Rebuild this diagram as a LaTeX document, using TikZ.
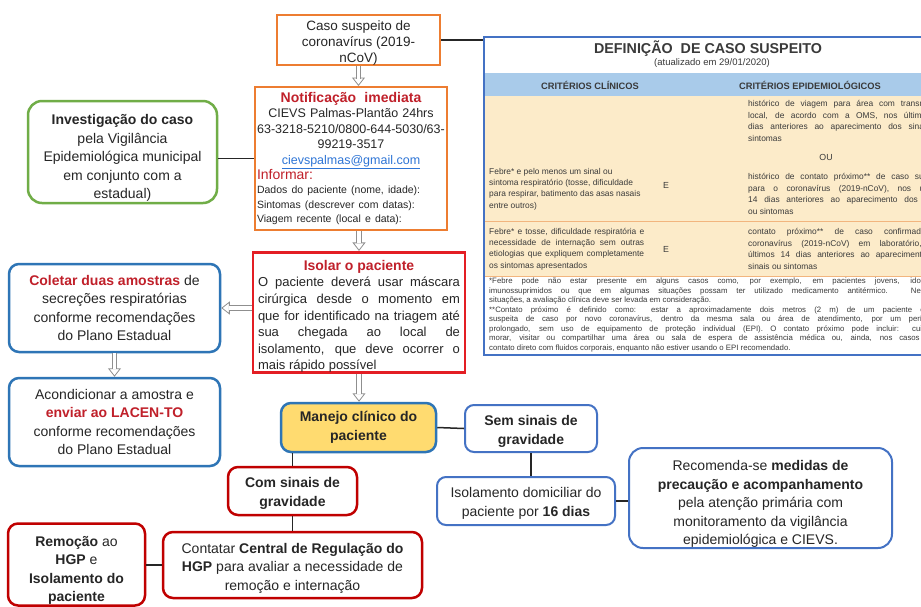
\documentclass[tikz,border=0pt]{standalone}
\usepackage{fontspec}
\setmainfont{Liberation Sans}
\usetikzlibrary{arrows.meta}
\definecolor{boxorange}{HTML}{ED7D31}
\definecolor{boxred}{HTML}{C00000}
\definecolor{brightred}{HTML}{E31E24}
\definecolor{alertred}{HTML}{C0202A}
\definecolor{boxgreen}{HTML}{70AD47}
\definecolor{boxblue}{HTML}{2E75B6}
\definecolor{paleblue}{HTML}{4472C4}
\definecolor{manejofill}{HTML}{FFDB70}
\definecolor{headfill}{HTML}{A9CBEA}
\definecolor{rowfill}{HTML}{FCEBC9}
\definecolor{rowline}{HTML}{F2B57E}
\definecolor{linkblue}{HTML}{2E75D6}
\definecolor{arrowgray}{HTML}{8F8F8F}
\definecolor{ink}{HTML}{262626}
\definecolor{tabink}{HTML}{3A3A3A}

\begin{document}
\begin{tikzpicture}[x=1pt, y=-1pt,
  every node/.style={text=ink},
  box/.style={draw, line width=2pt, align=center, inner sep=0pt,
    font=\fontsize{14}{18.5}\selectfont},
  orangebox/.style={box, draw=boxorange},
  redbox/.style={box, draw=boxred, rounded corners=10pt, line width=2.5pt},
  bluebox/.style={box, draw=boxblue, rounded corners=10pt, line width=2.5pt},
  lightbox/.style={box, draw=paleblue, rounded corners=9pt, line width=2pt},
  greenbox/.style={box, draw=boxgreen, rounded corners=14pt, line width=2.5pt},
  boldbox/.style={font=\bfseries\fontsize{14}{19}\selectfont},
  link/.style={draw=ink, line width=1.5pt},
  hollowshaft/.style={draw=arrowgray, line width=0.8pt, double=white,
    double distance=3.8pt, shorten >=7.5pt},
  hollowhead/.style={draw=arrowgray, line width=0.8pt,
    -{Triangle[length=8.5pt, width=13pt, fill=white]}},
  tabtext/.style={text=tabink, inner sep=0pt,
    font=\fontsize{8.4}{11.4}\selectfont},
  tabhead/.style={text=tabink, font=\bfseries\fontsize{9.3}{11}\selectfont}
  ]
  \path[use as bounding box, clip] (0,0) rectangle (921,606);
  \fill[white] (0,0) rectangle (921,606);

  \node[orangebox, minimum width=163pt, minimum height=50pt,
    font=\fontsize{13.5}{16}\selectfont] (caso) at (358.5,40)
    {\rule{0pt}{15pt}Caso suspeito de\\coronavírus (2019-\\nCoV)};
  \node[orangebox, minimum width=192pt, minimum height=143pt,
    text width=188pt, align=left, font=\fontsize{12.5}{15.5}\selectfont]
    (notif) at (351,158.5)
    {{\centering {\color{alertred}\bfseries\fontsize{14}{15.5}\selectfont Notificação\ \ imediata}\\
    CIEVS Palmas-Plantão 24hrs\\
    63-3218-5210/0800-644-5030/63-\\
    99219-3517\\
    {\color{linkblue}\underline{cievspalmas@gmail.com}}\par}
    {\color{alertred}\fontsize{14}{15}\selectfont Informar:\par}
    {\fontsize{10.5}{14.5}\selectfont Dados do paciente (nome, idade):\\
    Sintomas (descrever com datas):\\
    Viagem recente (local e data):\par}};
  \node[box, draw=brightred, line width=2.8pt, minimum width=212pt,
    minimum height=120pt, text width=202pt, align=justify,
    font=\fontsize{13}{16.6}\selectfont] (isolar) at (359,312.5)
    {{\centering\color{alertred}\bfseries\fontsize{14}{17}\selectfont\rule{0pt}{18pt}Isolar o paciente\par}
    O paciente deverá usar máscara\linebreak
    cirúrgica desde o momento em\linebreak
    que for identificado na triagem até\linebreak
    sua chegada ao local de\linebreak
    isolamento, que deve ocorrer o\linebreak
    mais rápido possível};
  \node[greenbox, minimum width=189pt, minimum height=102pt] (invest) at (122.5,152)
    {\rule{0pt}{22pt}\textbf{Investigação do caso}\\pela Vigilância\\Epidemiológica municipal\\em conjunto com a\\estadual)};
  \node[bluebox, minimum width=211pt, minimum height=88pt] (coletar) at (114.5,308)
    {{\color{alertred}\bfseries Coletar duas amostras} de\\secreções respiratórias\\conforme recomendações\\do Plano Estadual};
  \node[bluebox, minimum width=211pt, minimum height=88pt] (acond) at (114.5,422)
    {Acondicionar a amostra e\\{\color{alertred}\bfseries enviar ao LACEN-TO}\\conforme recomendações\\do Plano Estadual};
  \node[bluebox, boldbox, fill=manejofill, minimum width=155pt, minimum height=49pt]
    (manejo) at (358.5,427.5) {Manejo clínico do\\paciente};
  \node[lightbox, boldbox, minimum width=132pt, minimum height=47pt] (sem) at (531,428.5)
    {\rule{0pt}{15pt}Sem sinais de\\gravidade};
  \node[lightbox, minimum width=178pt, minimum height=48pt] (isodom) at (526,501)
    {\rule{0pt}{15pt}Isolamento domiciliar do\\paciente por \textbf{16 dias}};
  \node[lightbox, rounded corners=14pt, minimum width=263pt, minimum height=100pt]
    (recom) at (760.5,498)
    {\rule{0pt}{22pt}Recomenda-se \textbf{medidas de}\\\textbf{precaução e acompanhamento}\\pela atenção primária com\\monitoramento da vigilância\\epidemiológica e CIEVS.};
  \node[redbox, boldbox, minimum width=129pt, minimum height=48pt] (comsinais) at (292.5,491)
    {\rule{0pt}{15pt}Com sinais de\\gravidade};
  \node[redbox, minimum width=259pt, minimum height=66pt] (contatar) at (292.5,565)
    {\rule{0pt}{16pt}Contatar \textbf{Central de Regulação do}\\\textbf{HGP} para avaliar a necessidade de\\remoção e internação};
  \node[redbox, minimum width=137pt, minimum height=82pt] (remocao) at (76.5,564.5)
    {\rule{0pt}{22pt}\textbf{Remoção} ao\\\textbf{HGP} e\\\textbf{Isolamento do}\\\textbf{paciente}};

  \fill[headfill] (485,73) rectangle (964,96);
  \fill[rowfill] (485,96) rectangle (964,276);
  \draw[rowline, line width=0.6pt] (485,221) -- (964,221);
  \draw[rowline, line width=0.6pt] (485,276) -- (964,276);
  \node[draw=paleblue, line width=1.5pt, minimum width=480pt, minimum height=318pt,
    inner sep=0pt] (defbox) at (724,196) {};
  \node[text=tabink, font=\bfseries\fontsize{14.3}{16}\selectfont] (deftitle) at (708,49)
    {DEFINIÇÃO\ \ DE CASO SUSPEITO};
  \node[text=tabink, font=\fontsize{9.5}{11}\selectfont] (defdate) at (712,63)
    {(atualizado em 29/01/2020)};
  \node[tabhead] (headcli) at (590,85) {CRITÉRIOS CLÍNICOS};
  \node[tabhead] (headepi) at (810,85) {CRITÉRIOS EPIDEMIOLÓGICOS};
  \node[tabtext, anchor=west, align=left] (clin1) at (489,189)
    {Febre* e pelo menos um sinal ou\\sintoma respiratório (tosse, dificuldade\\para respirar, batimento das asas nasais\\entre outros)};
  \node[tabtext, font=\fontsize{8.8}{10}\selectfont] (e1) at (666,185) {E};
  \node[tabtext, anchor=west, text width=198pt, align=justify] (epi1) at (748,121)
    {histórico de viagem para área com transmissão\linebreak
    local, de acordo com a OMS, nos últimos 14\linebreak
    dias anteriores ao aparecimento dos sinais ou\linebreak
    sintomas};
  \node[tabtext, font=\fontsize{8.8}{10}\selectfont] (ou) at (826,157) {OU};
  \node[tabtext, anchor=west, text width=198pt, align=justify] (epi2) at (748,194)
    {histórico de contato próximo** de caso suspeito\linebreak
    para o coronavírus (2019-nCoV), nos últimos\linebreak
    14 dias anteriores ao aparecimento dos sinais\linebreak
    ou sintomas};
  \node[tabtext, anchor=west, text width=155pt, align=justify] (clin2) at (489,249)
    {Febre* e tosse, dificuldade respiratória e\linebreak
    necessidade de internação sem outras\linebreak
    etiologias que expliquem completamente\linebreak
    os sintomas apresentados};
  \node[tabtext, font=\fontsize{8.8}{10}\selectfont] (e2) at (666,249) {E};
  \node[tabtext, anchor=west, text width=198pt, align=justify] (epi3) at (748,249)
    {contato próximo** de caso confirmado de\linebreak
    coronavírus (2019-nCoV) em laboratório, nos\linebreak
    últimos 14 dias anteriores ao aparecimento dos\linebreak
    sinais ou sintomas};
  \node[tabtext, anchor=north west, text width=446pt, align=justify,
    font=\fontsize{7.8}{9.5}\selectfont] (foot) at (489,278)
    {*Febre pode não estar presente em alguns casos como, por exemplo, em pacientes jovens, idosos,\linebreak
    imunossuprimidos ou que em algumas situações possam ter utilizado medicamento antitérmico. Nestas\linebreak
    situações, a avaliação clínica deve ser levada em consideração.\par
    **Contato próximo é definido como: estar a aproximadamente dois metros (2 m) de um paciente com\linebreak
    suspeita de caso por novo coronavírus, dentro da mesma sala ou área de atendimento, por um período\linebreak
    prolongado, sem uso de equipamento de proteção individual (EPI). O contato próximo pode incluir: cuidar,\linebreak
    morar, visitar ou compartilhar uma área ou sala de espera de assistência médica ou, ainda, nos casos de\linebreak
    contato direto com fluidos corporais, enquanto não estiver usando o EPI recomendado.};

  \draw[link] (caso.east) -- (caso.east -| defbox.west);
  \draw[link] (invest.east |- notif.west) -- (notif.west);
  \draw[link] (manejo.east) -- (sem.west);
  \draw[link] (sem.south) -- (sem.south |- isodom.north);
  \draw[link] (isodom.east) -- (isodom.east -| recom.west);
  \draw[link] (comsinais.north |- manejo.south) -- (comsinais.north);
  \draw[link] (comsinais.south) -- (contatar.north);
  \draw[link] (contatar.west) -- (contatar.west -| remocao.east);

  \draw[hollowhead] ([yshift=8.5pt]caso.south |- notif.north) -- (caso.south |- notif.north);
  \draw[hollowshaft] (caso.south) -- (caso.south |- notif.north);
  \draw[hollowhead] ([yshift=8.5pt]isolar.north) -- (isolar.north);
  \draw[hollowshaft] (isolar.north |- notif.south) -- (isolar.north);
  \draw[hollowhead] ([xshift=8.5pt]coletar.east) -- (coletar.east);
  \draw[hollowshaft] (isolar.west |- coletar.east) -- (coletar.east);
  \draw[hollowhead] ([yshift=8.5pt]acond.north) -- (acond.north);
  \draw[hollowshaft] (coletar.south) -- (acond.north);
  \draw[hollowhead] ([yshift=8.5pt]isolar.south |- manejo.north) -- (isolar.south |- manejo.north);
  \draw[hollowshaft] (isolar.south) -- (isolar.south |- manejo.north);
\end{tikzpicture}
\end{document}
